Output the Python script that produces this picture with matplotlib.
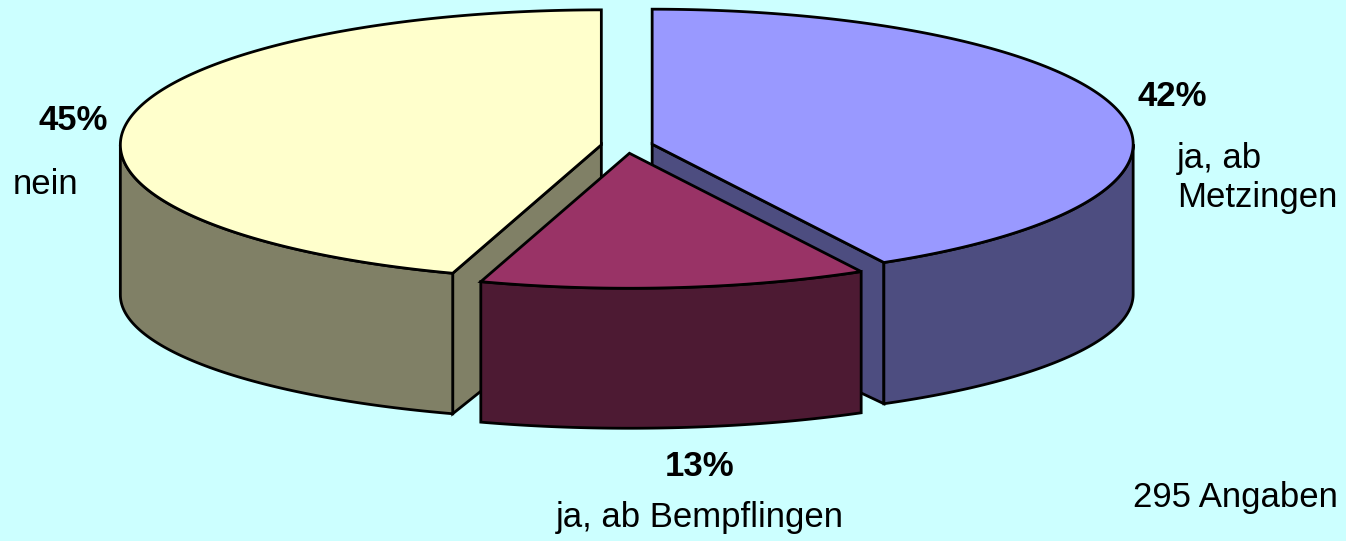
import numpy as np
import matplotlib.pyplot as plt
from matplotlib.patches import Polygon

plt.rcParams['font.family'] = ['Liberation Sans', 'DejaVu Sans']

# Antworten (Prozent), im Uhrzeigersinn ab 12 Uhr
labels = ["ja, ab\nMetzingen", "ja, ab Bempflingen", "nein"]
values = [42, 13, 45]
top_colors = ["#9999FF", "#993366", "#FFFFCC"]
side_colors = ["#4D4D80", "#4D1A33", "#808066"]
n_total = 295

# Geometrie der 3D-Torte (Pixel); unten etwas flacher wegen Perspektive
cx, cy = 627, 146
rx, ry = 481, 135
ry_bottom = 125
depth = 150
explode = 0.054

fig = plt.figure(figsize=(13.46, 5.41), dpi=100)
fig.patch.set_facecolor("#CCFFFF")
ax = fig.add_axes([0, 0, 1, 1])
ax.set_xlim(0, 1346)
ax.set_ylim(541, 0)
ax.axis("off")

edge = dict(edgecolor="black", linewidth=2.0, joinstyle="miter")


def rim(apex, th, bottom=False):
    th = np.radians(th)
    r_y = ry_bottom if bottom else ry
    dy = depth if bottom else 0
    return np.column_stack([apex[0] + rx * np.sin(th),
                            apex[1] + dy - r_y * np.cos(th)])


bounds = np.concatenate([[0], np.cumsum(values) / sum(values) * 360])
slices = []
for i in range(len(values)):
    t1, t2 = bounds[i], bounds[i + 1]
    mid = np.radians((t1 + t2) / 2)
    apex = (cx + explode * rx * np.sin(mid), cy - explode * ry * np.cos(mid))
    slices.append((i, t1, t2, apex))

# hinten zuerst, das vordere Stueck zuletzt
order = sorted(slices, key=lambda s: s[3][1])
for i, t1, t2, apex in order:
    a = np.array(apex)
    a_low = a + np.array([0, depth])
    # Schnittflaechen
    for th, sgn in ((t1, -1), (t2, 1)):
        if sgn * np.sin(np.radians(th)) > 1e-6:
            p = rim(apex, [th])[0]
            q = rim(apex, [th], bottom=True)[0]
            face = np.array([a, p, q, a_low])
            ax.add_patch(Polygon(face, closed=True, facecolor=side_colors[i], **edge))
    # Mantelflaeche (vorderer Teil)
    s1, s2 = max(t1, 90), min(t2, 270)
    if s2 > s1:
        th = np.linspace(s1, s2, 80)
        side = np.vstack([rim(apex, th), rim(apex, th, bottom=True)[::-1]])
        ax.add_patch(Polygon(side, closed=True, facecolor=side_colors[i], **edge))
    # Deckflaeche
    arc = rim(apex, np.linspace(t1, t2, 200))
    top = np.vstack([a, arc])
    ax.add_patch(Polygon(top, closed=True, facecolor=top_colors[i], **edge))

# Beschriftung
fs = 25
pct_pos = [(1172, 97), (700, 467), (73, 120)]
lab_pos = [(1177, 178, "left"), (700, 518, "center"), (46, 185, "center")]
for i in range(len(values)):
    ax.text(*pct_pos[i], f"{values[i]}%", fontsize=fs, fontweight="bold",
            ha="center", va="center")
    x, y, ha = lab_pos[i]
    ax.text(x, y, labels[i], fontsize=fs, ha=ha, va="center", linespacing=1.25)

ax.text(1338, 497, f"{n_total} Angaben", fontsize=fs, ha="right", va="center")

fig.savefig("out.png", dpi=100, facecolor=fig.get_facecolor())
